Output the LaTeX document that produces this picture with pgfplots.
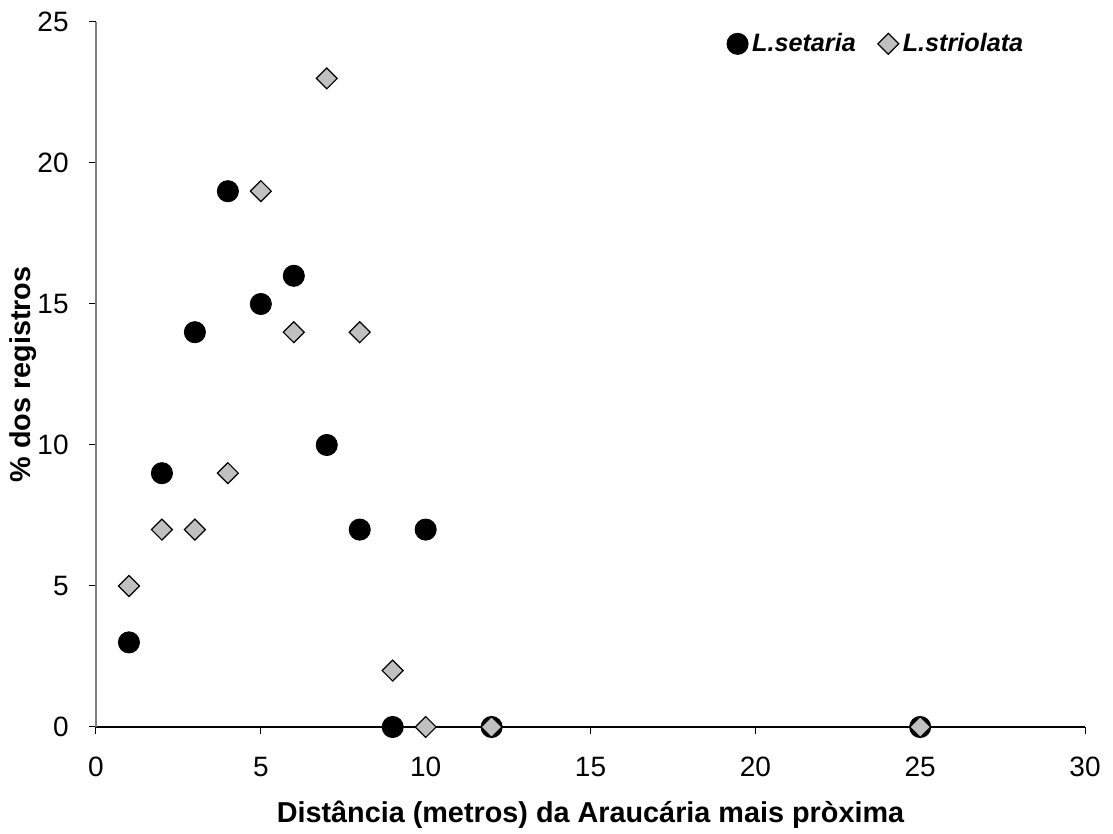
\documentclass[border=0pt]{standalone}
\usepackage{fontspec}
\setmainfont{Liberation Sans}
\usepackage{pgfplots}
\pgfplotsset{compat=1.18}
\usetikzlibrary{calc}
\definecolor{dgrey}{HTML}{C0C0C0}
\begin{document}
\begin{tikzpicture}
\begin{axis}[
  scale only axis,
  width=494.5pt, height=352.5pt,
  xmin=0, xmax=30, ymin=0, ymax=25,
  xtick={0,5,...,30}, ytick={0,5,...,25},
  axis x line*=bottom, axis y line*=left,
  x axis line style={black, line width=0.6pt, -},
  y axis line style={gray, line width=0.6pt, -},
  tick style={black, line width=0.5pt},
  tick align=outside, major tick length=3.5pt,
  xtick pos=bottom, ytick pos=left,
  /pgf/number format/assume math mode=true,
  ticklabel style={font=\fontsize{14}{16}\selectfont},
  xticklabel style={yshift=-8pt},
  yticklabel style={inner xsep=10pt},
  xlabel={\bfseries Distância (metros) da Araucária mais pròxima},
  ylabel={\bfseries \% dos registros},
  label style={font=\fontsize{14.4}{16}\selectfont},
  xlabel style={yshift=-5pt},
  ylabel style={at={(axis description cs:-0.0597,0.5)}, anchor=south, rotate=0, inner sep=0pt},
  clip=false,
  legend style={draw=none, fill=none, at={(0.948,0.996)}, anchor=north east,
    legend columns=2, font=\fontsize{12.6}{14}\selectfont\bfseries\itshape,
    /tikz/every even column/.append style={column sep=9pt}},
  legend cell align=left,
]
\coordinate (sw) at (rel axis cs:0,0);
\coordinate (ne) at (rel axis cs:1,1);
\addplot[only marks, mark=*, mark size=5.3pt, mark options={fill=black, draw=black}]
  coordinates {(1,3) (2,9) (3,14) (4,19) (5,15) (6,16) (7,10) (8,7) (9,0) (10,7) (12,0) (25,0)};
\addlegendentry{L.setaria}
\addplot[only marks, mark=square*, mark size=3.7pt, mark options={rotate=45, fill=dgrey, draw=black, line width=0.6pt}]
  coordinates {(1,5) (2,7) (3,7) (4,9) (5,19) (6,14) (7,23) (8,14) (9,2) (10,0) (12,0) (25,0)};
\addlegendentry{L.striolata}
\end{axis}
\pgfresetboundingbox
\path[use as bounding box] ($(sw)+(-48pt,-53.5pt)$) rectangle ($(ne)+(14pt,11pt)$);
\end{tikzpicture}
\end{document}
